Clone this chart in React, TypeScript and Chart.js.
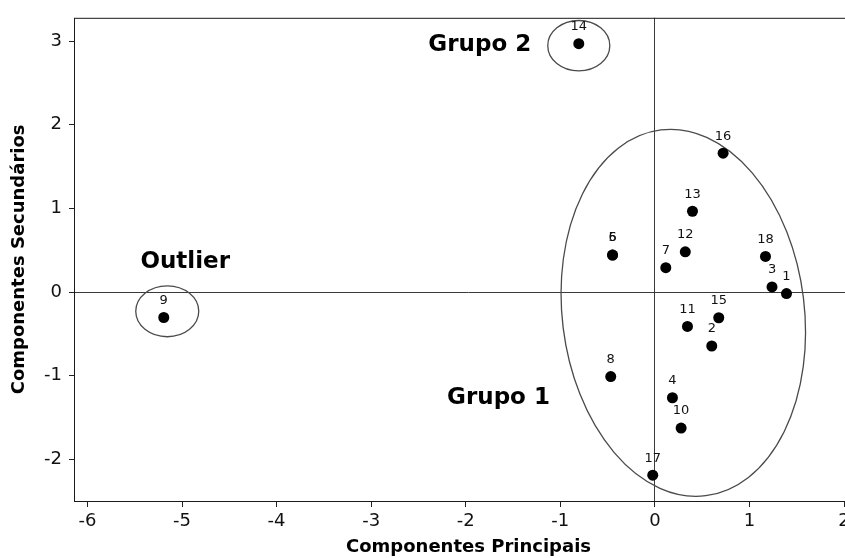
import React, { useEffect, useRef } from "react";
import { Chart, registerables } from "chart.js";

Chart.register(...registerables);

// Observations (scores on the first two principal components)
const pointIds = ["1", "2", "3", "4", "5", "6", "7", "8", "9", "10", "11", "12", "13", "14", "15", "16", "17", "18"];
const xValues = [1.391, 0.601, 1.238, 0.185, -0.448, -0.448, 0.115, -0.467, -5.193, 0.277, 0.344, 0.321, 0.397, -0.805, 0.675, 0.721, -0.023, 1.169];
const yValues = [-0.019, -0.646, 0.061, -1.265, 0.442, 0.442, 0.291, -1.011, -0.305, -1.627, -0.412, 0.481, 0.966, 2.971, -0.308, 1.661, -2.191, 0.426];

// Axis ticks
const xTickValues = [-6, -5, -4, -3, -2, -1, 0, 1, 2];
const yTickValues = [-2, -1, 0, 1, 2, 3];

// Group annotations (data coordinates)
const groupLabels = ["Grupo 2", "Grupo 1", "Outlier"];
const groupLabelX = [-1.852, -1.654, -4.966];
const groupLabelY = [2.985, -1.238, 0.391];

// Ellipses around groups (data coordinates)
const ellipseCx = [0.3, -0.805, -5.156];
const ellipseCy = [-0.249, 2.947, -0.231];
const ellipseRx = [1.28, 0.328, 0.333];
const ellipseRy = [2.204, 0.301, 0.304];
const ellipseTiltDeg = [-7, 0, 0];

const FONT = "'DejaVu Sans', 'Liberation Sans', sans-serif";

const overlayPlugin = {
  id: "overlay",
  beforeDatasetsDraw(chart: any) {
    const { ctx, chartArea, scales } = chart;
    const xs = scales.x;
    const ys = scales.y;
    ctx.save();
    // frame
    ctx.strokeStyle = "#1a1a1a";
    ctx.lineWidth = 1;
    ctx.strokeRect(chartArea.left + 0.5, chartArea.top + 0.5, chartArea.right - chartArea.left, chartArea.bottom - chartArea.top);
    // ellipses
    ctx.strokeStyle = "#4a4a4a";
    ctx.lineWidth = 1.3;
    for (let i = 0; i < ellipseCx.length; i++) {
      const cx = xs.getPixelForValue(ellipseCx[i]);
      const cy = ys.getPixelForValue(ellipseCy[i]);
      const rx = Math.abs(xs.getPixelForValue(ellipseCx[i] + ellipseRx[i]) - cx);
      const ry = Math.abs(ys.getPixelForValue(ellipseCy[i] + ellipseRy[i]) - cy);
      ctx.beginPath();
      ctx.ellipse(cx, cy, rx, ry, (ellipseTiltDeg[i] * Math.PI) / 180, 0, Math.PI * 2);
      ctx.stroke();
    }
    ctx.restore();
  },
  afterDatasetsDraw(chart: any) {
    const { ctx, scales } = chart;
    const meta = chart.getDatasetMeta(0);
    ctx.save();
    ctx.fillStyle = "#111";
    ctx.font = `13px ${FONT}`;
    ctx.textAlign = "center";
    ctx.textBaseline = "middle";
    meta.data.forEach((el: any, i: number) => {
      ctx.fillText(pointIds[i], el.x, el.y - 17);
    });
    ctx.font = `bold 23px ${FONT}`;
    ctx.fillStyle = "#000";
    ctx.textBaseline = "alphabetic";
    for (let i = 0; i < groupLabels.length; i++) {
      const px = scales.x.getPixelForValue(groupLabelX[i]);
      const py = scales.y.getPixelForValue(groupLabelY[i]);
      ctx.fillText(groupLabels[i], px, py + 8.4);
    }
    ctx.restore();
  },
};

export default function App() {
  const ref = useRef<HTMLCanvasElement | null>(null);
  useEffect(() => {
    if (!ref.current) return;
    const chart = new Chart(ref.current, {
      type: "scatter",
      data: {
        datasets: [
          {
            data: xValues.map((x, i) => ({ x, y: yValues[i] })),
            backgroundColor: "#000",
            borderWidth: 0,
            pointRadius: 5.5,
          },
        ],
      },
      options: {
        animation: false,
        responsive: false,
        layout: { padding: { left: 0, right: 17, top: 16, bottom: 0 } },
        plugins: { legend: { display: false }, tooltip: { enabled: false } },
        scales: {
          x: {
            type: "linear",
            min: -6.142,
            max: 2.2,
            afterBuildTicks: (s: any) => {
              s.ticks = xTickValues.map((v) => ({ value: v }));
            },
            afterFit: (s: any) => {
              s.height = 57;
            },
            border: { display: false },
            grid: {
              color: (c: any) => (c.tick && c.tick.value === 0 ? "#3a3a3a" : "rgba(0,0,0,0)"),
              tickColor: "#222",
              tickLength: 6,
              lineWidth: 1,
            },
            ticks: { font: { family: FONT, size: 18 }, color: "#111", padding: 4, maxRotation: 0 },
            title: {
              display: true,
              text: "Componentes Principais",
              font: { family: FONT, size: 18, weight: "bold" },
              color: "#000",
              padding: { top: 0, bottom: 0 },
            },
          },
          y: {
            type: "linear",
            min: -2.5,
            max: 3.28,
            afterBuildTicks: (s: any) => {
              s.ticks = yTickValues.map((v) => ({ value: v }));
            },
            afterFit: (s: any) => {
              s.width = 74;
            },
            border: { display: false },
            grid: {
              color: (c: any) => (c.tick && c.tick.value === 0 ? "#3a3a3a" : "rgba(0,0,0,0)"),
              tickColor: "#222",
              tickLength: 5,
              lineWidth: 1,
            },
            ticks: { font: { family: FONT, size: 18 }, color: "#111", padding: 7 },
            title: {
              display: true,
              text: "Componentes Secundários",
              font: { family: FONT, size: 18, weight: "bold" },
              color: "#000",
              padding: { top: 9, bottom: 0 },
            },
          },
        },
      },
      plugins: [overlayPlugin],
    } as any);
    return () => chart.destroy();
  }, []);

  return (
    <div style={{ position: "fixed", left: 0, top: 0, width: 845, height: 558, overflow: "hidden", background: "#fff" }}>
      <canvas ref={ref} width={880} height={558} style={{ width: 880, height: 558, display: "block" }} />
    </div>
  );
}
